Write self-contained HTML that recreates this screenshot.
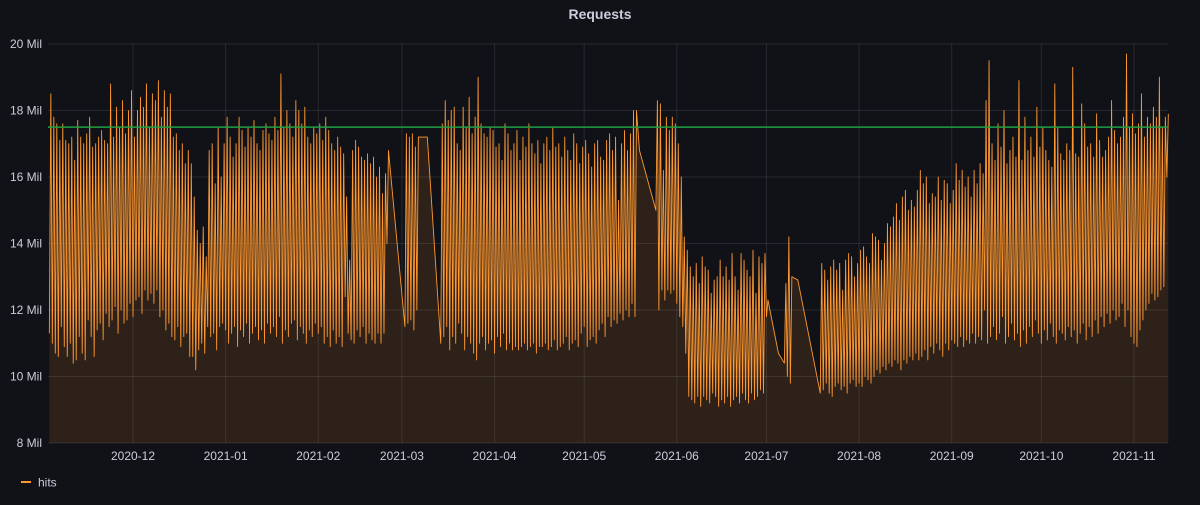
<!DOCTYPE html>
<html>
<head>
<meta charset="utf-8">
<style>
  html,body{margin:0;padding:0;background:#111217;}
  body{width:1200px;height:500px;overflow:hidden;font-family:"Liberation Sans",sans-serif;}
  svg text{font-family:"Liberation Sans",sans-serif;}
</style>
</head>
<body>
<svg id="chart" width="1200" height="500">
  <text x="600" y="19" text-anchor="middle" fill="#ccccdc" font-size="14" font-weight="600">Requests</text>
  <g id="grid"></g>
  <g id="yaxis"></g>
  <g id="xaxis"></g>
  <g id="series"></g>
  <g id="threshold"></g>
  <g>
    <line x1="21" y1="482" x2="31" y2="482" stroke="#ff9830" stroke-width="2"/>
    <text x="38" y="486.5" fill="#ccccdc" font-size="12">hits</text>
  </g>
</svg>
<script>
const yTicks = [8, 10, 12, 14, 16, 18, 20];
const yTickLabels = ["8 Mil","10 Mil","12 Mil","14 Mil","16 Mil","18 Mil","20 Mil"];
const xTicks = ["2020-12-01","2021-01-01","2021-02-01","2021-03-01","2021-04-01","2021-05-01","2021-06-01","2021-07-01","2021-08-01","2021-09-01","2021-10-01","2021-11-01"];
const xTickLabels = ["2020-12","2021-01","2021-02","2021-03","2021-04","2021-05","2021-06","2021-07","2021-08","2021-09","2021-10","2021-11"];
const thresholdValue = 17.5;

const segStarts = ["2020-11-03","2020-12-20","2021-01-01","2021-03-02","2021-03-09","2021-03-14","2021-05-19","2021-05-25","2021-06-03","2021-07-01","2021-07-19","2021-09-13"];
const seg1High = [18.5,17.8,17.6,17.1,17.6,17.1,17.0,17.2,16.5,17.7,17.2,17.0,17.3,17.8,16.9,17.0,17.2,17.4,17.1,17.0,18.8,17.2,18.1,17.5,18.3,17.3,18.0,18.6,17.2,18.0,18.4,18.1,18.8,17.5,18.5,18.3,18.9,17.8,18.6,18.1,18.5,17.2,17.3,16.8,17.0,16.4,16.8];
const seg1Low = [11.3,11.0,10.7,10.6,11.5,10.9,10.6,11.0,10.4,10.5,11.2,10.7,10.5,11.7,11.2,10.6,11.4,11.6,11.1,11.9,11.5,11.7,12.1,11.3,12.0,11.6,11.7,12.2,11.8,12.3,12.4,11.9,12.6,12.3,12.5,12.2,12.6,11.8,12.0,11.4,11.6,11.2,11.1,11.5,10.9,11.2,11.3];
const seg2High = [16.4,15.4,14.4,14.0,14.5,13.6,16.8,17.0,15.8,17.5,16.0,17.0];
const seg2Low = [10.6,10.6,10.2,10.8,11.0,10.7,11.5,11.2,11.3,10.8,11.5,11.6];
const seg3High = [17.8,17.2,16.6,17.0,17.8,17.4,16.9,17.5,17.2,17.7,17.0,16.8,17.4,17.6,17.3,17.1,17.8,17.4,19.1,17.5,18.0,17.6,17.2,18.3,18.0,17.6,18.1,17.2,17.0,17.5,17.3,17.6,17.1,17.8,17.4,17.0,16.8,17.2,16.9,16.7,15.4,13.5,16.8,17.1,16.9,16.6,16.5,16.7,16.4,16.6,16.0,16.3,15.5,16.1,16.8];
const seg3Low = [11.4,11.0,11.3,11.5,10.9,11.4,11.2,11.6,11.0,11.3,11.5,11.1,11.4,11.0,11.6,11.3,11.5,11.2,11.8,11.0,11.4,11.2,11.6,11.7,11.1,11.5,11.3,11.0,11.4,11.2,11.6,11.3,11.5,11.0,11.2,10.9,11.4,11.0,11.2,10.9,12.4,11.3,11.1,11.0,11.4,11.2,11.5,11.0,11.3,11.1,11.0,11.3,11.0,11.3,14.0];
const seg4High = [17.3,17.2,17.3,16.9,17.2];
const seg4Low = [11.5,11.6,11.7,11.4,12.0];
const seg5High = [17.2];
const seg5Low = [null];
const seg6High = [17.6,18.3,17.7,18.0,18.1,17.0,16.8,18.1,17.5,18.4,17.3,17.8,19.0,17.6,17.3,17.2,17.5,17.4,16.9,17.0,16.5,17.6,17.3,16.8,17.0,17.4,16.5,17.2,16.9,17.6,17.0,16.7,17.1,16.4,17.0,17.2,16.8,17.5,16.9,17.0,16.6,17.2,16.8,16.5,17.3,17.0,16.4,16.9,17.1,16.7,16.3,17.0,17.1,16.6,16.5,17.1,17.3,16.8,17.2,15.3,17.0,17.4,16.8,17.3,18.0,18.0];
const seg6Low = [11.0,11.2,11.5,10.8,11.2,11.0,11.6,11.3,10.8,11.2,11.0,10.7,10.5,11.0,11.2,10.8,11.0,11.1,10.7,11.2,10.9,11.3,10.8,11.0,10.8,10.9,10.8,10.9,11.0,10.8,10.9,11.0,10.7,10.9,10.9,11.0,10.8,10.9,11.1,10.8,10.9,11.0,11.2,10.8,11.0,11.1,10.9,11.3,11.5,10.9,11.1,11.2,11.0,11.4,11.6,11.2,11.8,11.5,11.7,11.6,11.9,11.7,12.0,11.8,12.2,11.8];
const seg7High = [16.8];
const seg7Low = [null];
const seg8High = [18.3,18.2,16.2,17.8,17.4,17.8,17.6,17.0,16.0];
const seg8Low = [15.0,12.0,12.6,12.3,12.6,12.5,12.6,12.2,11.8];
const seg9High = [14.2,13.8,13.3,13.0,13.4,12.8,13.6,13.3,13.2,12.5,12.9,13.0,13.5,13.0,13.3,12.9,13.7,13.0,12.6,13.7,13.5,13.2,13.0,13.8,12.5,13.6,13.4,13.7];
const seg9Low = [11.5,10.7,9.4,9.3,9.2,9.4,9.1,9.4,9.3,9.2,9.5,9.4,9.1,9.3,9.2,9.4,9.1,9.3,9.4,9.2,9.5,9.3,9.2,9.5,9.3,9.4,9.6,9.5];
const seg10High = [12.3,null,null,null,null,null,12.8,14.2,13.0,null,12.9,null];
const seg10Low = [11.8,null,null,null,10.7,null,10.4,10.0,9.8,null,null,null];
const seg11High = [13.4,13.2,12.9,13.3,13.5,13.2,13.4,12.6,13.5,13.7,13.6,13.0,13.4,13.8,13.9,13.6,13.4,14.3,14.2,14.1,13.5,14.0,14.6,14.5,14.8,15.2,14.7,15.4,15.6,15.0,15.3,15.1,15.6,16.2,15.8,16.0,15.2,15.5,15.4,16.0,15.3,15.9,15.8,15.2,15.6,16.4,15.9,16.2,15.7,16.0,15.4,16.2,15.8,16.4,16.1,18.3];
const seg11Low = [9.5,9.6,9.8,9.5,9.4,9.7,9.8,9.6,9.7,9.5,9.8,9.9,9.7,9.8,9.7,10.0,9.9,9.8,10.0,10.2,10.1,10.3,10.2,10.4,10.3,10.5,10.4,10.2,10.5,10.4,10.6,10.5,10.7,10.5,10.6,10.8,10.5,10.9,10.7,11.0,10.8,10.6,11.0,10.8,11.1,11.0,10.9,11.2,10.9,11.1,11.0,11.3,11.0,11.2,11.1,12.0];
const seg12High = [19.5,17.0,16.5,17.6,16.9,18.0,16.4,16.8,17.2,16.6,18.9,16.5,17.8,16.8,17.2,16.6,18.1,16.9,17.5,16.8,16.5,16.3,18.8,17.5,16.7,16.5,17.0,16.8,19.3,16.7,16.6,18.2,17.6,16.9,17.0,16.6,17.9,17.1,16.6,16.8,17.2,18.3,17.4,17.0,17.2,17.8,19.7,17.5,17.9,17.3,17.6,18.5,17.2,17.8,17.6,18.1,17.8,19.0,17.5,17.8,17.9];
const seg12Low = [11.0,11.2,11.5,11.1,11.3,11.8,11.0,11.2,11.6,11.1,11.3,10.9,11.4,11.0,11.5,11.2,11.7,11.3,11.0,11.4,11.1,11.6,11.2,11.0,11.4,11.3,11.1,11.5,11.2,11.4,11.0,11.3,11.6,11.1,11.5,11.2,11.7,11.3,11.8,11.5,11.9,11.6,12.0,11.7,11.8,12.2,11.5,12.0,11.2,11.0,10.9,11.4,11.7,12.0,12.2,12.5,12.3,12.4,12.6,12.7,16.0];

const segHighs = [seg1High,seg2High,seg3High,seg4High,seg5High,seg6High,seg7High,seg8High,seg9High,seg10High,seg11High,seg12High];
const segLows = [seg1Low,seg2Low,seg3Low,seg4Low,seg5Low,seg6Low,seg7Low,seg8Low,seg9Low,seg10Low,seg11Low,seg12Low];

const NS = "http://www.w3.org/2000/svg";
const plotL = 48, plotR = 1168, plotT = 44, plotB = 443;
const yMin = 8, yMax = 20;
const DAY = 86400000;
const refDate = Date.parse("2020-12-01");
const pxPerDay = 2.988;
const refX = 133;
function xScale(t){ return refX + (t - refDate) / DAY * pxPerDay; }
function yScale(v){ return plotB - (v - yMin) / (yMax - yMin) * (plotB - plotT); }
function mk(tag, attrs){ const e = document.createElementNS(NS, tag); for (const k in attrs) e.setAttribute(k, attrs[k]); return e; }

const grid = document.getElementById("grid");
const yaxis = document.getElementById("yaxis");
yTicks.forEach((v, i) => {
  const y = yScale(v);
  const gl = mk("line", {x1: plotL, x2: plotR, y1: y, y2: y, stroke: "rgba(204,204,220,0.12)", "stroke-width": 1});
  
  
  grid.appendChild(gl);
  const t = mk("text", {x: 42, y: y + 4, "text-anchor": "end", fill: "#ccccdc", "font-size": 12});
  t.textContent = yTickLabels[i];
  
  
  yaxis.appendChild(t);
});
const xaxis = document.getElementById("xaxis");
xTicks.forEach((d, i) => {
  const x = xScale(Date.parse(d));
  const gl = mk("line", {x1: x, x2: x, y1: plotT, y2: plotB, stroke: "rgba(204,204,220,0.12)", "stroke-width": 1});
  
  
  grid.appendChild(gl);
  const t = mk("text", {x: x, y: 460, "text-anchor": "middle", fill: "#ccccdc", "font-size": 12});
  t.textContent = xTickLabels[i];
  
  
  xaxis.appendChild(t);
});

const pts = [];
segStarts.forEach((s, si) => {
  const t0 = Date.parse(s);
  const hs = segHighs[si], ls = segLows[si];
  const n = Math.max(hs.length, ls.length);
  for (let i = 0; i < n; i++) {
    const lo = ls[i], hi = hs[i];
    if (lo != null) pts.push([xScale(t0 + i * DAY), yScale(lo)]);
    if (hi != null) pts.push([xScale(t0 + (i + 0.5) * DAY), yScale(hi)]);
  }
});
const series = document.getElementById("series");
let d = "M" + pts.map(p => p[0].toFixed(2) + "," + p[1].toFixed(2)).join("L");
const area = mk("path", {d: d + "L" + pts[pts.length-1][0].toFixed(2) + "," + plotB + "L" + pts[0][0].toFixed(2) + "," + plotB + "Z", fill: "rgba(255,152,48,0.12)", stroke: "none"});


series.appendChild(area);
const line = mk("path", {d: d, fill: "none", stroke: "#ff9830", "stroke-width": 0.9, "stroke-linejoin": "round"});


series.appendChild(line);

const th = document.getElementById("threshold");
const ty = yScale(thresholdValue);
const tl = mk("line", {x1: plotL, x2: plotR, y1: ty, y2: ty, stroke: "#1f9e44", "stroke-width": 1.5});


th.appendChild(tl);
</script>
</body>
</html>
